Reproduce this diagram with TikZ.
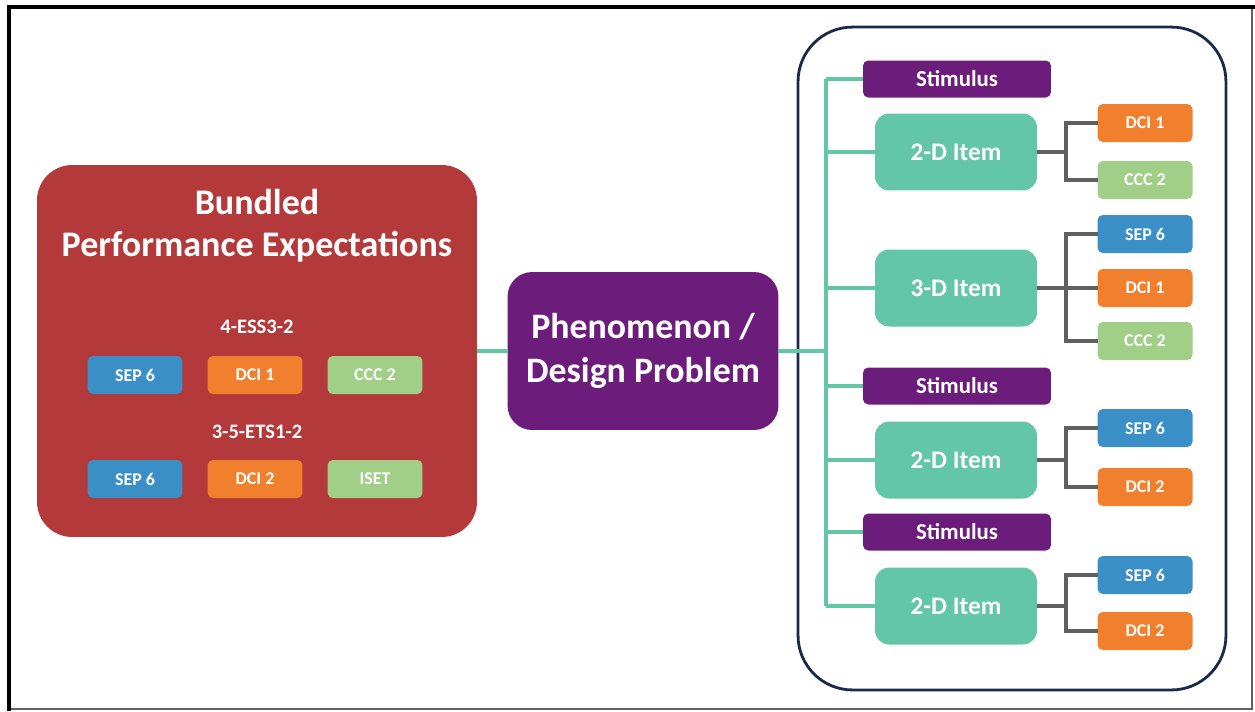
\documentclass[tikz,border=0pt]{standalone}
\usepackage{fontspec}
\setmainfont{Carlito}

\definecolor{peRed}{HTML}{B3393A}
\definecolor{phPurple}{HTML}{6C1D7C}
\definecolor{itemTeal}{HTML}{63C6A7}
\definecolor{sepBlue}{HTML}{3A8FC7}
\definecolor{dciOrange}{HTML}{F07F2E}
\definecolor{cccGreen}{HTML}{A2CF87}
\definecolor{linkGray}{HTML}{606060}
\definecolor{frameNavy}{HTML}{1B2A4A}

\begin{document}
\begin{tikzpicture}[x=0.02cm,y=-0.02cm]
        \tikzstyle{every node}=[font=\bfseries, text=white, inner sep=0pt, outer sep=0pt]
        \tikzstyle{tagbox}=[rounded corners=3pt, minimum width=1.9cm, minimum height=0.76cm, font=\fontsize{10.2}{12}\bfseries]
        \tikzstyle{sep}=[tagbox, fill=sepBlue]
        \tikzstyle{dci}=[tagbox, fill=dciOrange]
        \tikzstyle{ccc}=[tagbox, fill=cccGreen]
        \tikzstyle{stimbox}=[fill=phPurple, rounded corners=3pt, minimum width=3.76cm, minimum height=0.74cm, font=\fontsize{13}{15}\bfseries]
        \tikzstyle{itembox}=[fill=itemTeal, rounded corners=8pt, minimum width=3.24cm, minimum height=1.54cm, font=\fontsize{14.4}{17}\bfseries]
        \tikzstyle{pecode}=[font=\fontsize{11.7}{14}\bfseries]
        \tikzstyle{tealline}=[draw=itemTeal, line width=1.8pt]
        \tikzstyle{grayline}=[draw=linkGray, line width=1.8pt]

        \useasboundingbox (0,0) rectangle (1255,711);

        % frame
        \draw[linkGray, line width=0.8pt] (1252,7) -- (1252,709) -- (9,709);
        \draw[black, line width=2.4pt] (9,711) -- (9,7) -- (1255,7);

        % bundled performance expectations
        \node[fill=peRed, rounded corners=20pt, minimum width=8.8cm, minimum height=7.44cm] (pe) at (257,351) {};
        \node[align=center, font=\fontsize{20.5}{24}\bfseries] (peTitle) at (257,226) {Bundled\\Performance Expectations};
        \node[pecode] (essCode) at (257,327) {4-ESS3-2};
        \node[sep] (essSep) at (135,375) {SEP 6};
        \node[dci] (essDci) at (255,375) {DCI 1};
        \node[ccc] (essCcc) at (375,375) {CCC 2};
        \node[pecode] (etsCode) at (257,432) {3-5-ETS1-2};
        \node[sep] (etsSep) at (135,479) {SEP 6};
        \node[dci] (etsDci) at (255,479) {DCI 2};
        \node[ccc] (etsIset) at (375,479) {ISET};

        % phenomenon
        \node[fill=phPurple, rounded corners=14pt, minimum width=5.42cm, minimum height=3.16cm,
              align=center, font=\fontsize{20.4}{25.5}\bfseries] (phen) at (643,351) {Phenomenon /\\Design Problem};

        % task set
        \node[draw=frameNavy, line width=1.6pt, rounded corners=31pt, minimum width=8.56cm, minimum height=13.26cm] (taskSet) at (1012,358.5) {};

        \node[stimbox] (stimA) at (957,79) {Stimulus};
        \node[itembox] (itemA) at (956,152) {2-D Item};
        \node[itembox] (itemB) at (956,288) {3-D Item};
        \node[stimbox] (stimB) at (957,386) {Stimulus};
        \node[itembox] (itemC) at (956,460) {2-D Item};
        \node[stimbox] (stimC) at (957,532) {Stimulus};
        \node[itembox] (itemD) at (956,606) {2-D Item};

        \node[dci] (aDci) at (1145,123) {DCI 1};
        \node[ccc] (aCcc) at (1145,180) {CCC 2};
        \node[sep] (bSep) at (1145,234) {SEP 6};
        \node[dci] (bDci) at (1145,288) {DCI 1};
        \node[ccc] (bCcc) at (1145,341) {CCC 2};
        \node[sep] (cSep) at (1145,428) {SEP 6};
        \node[dci] (cDci) at (1145,487) {DCI 2};
        \node[sep] (dSep) at (1145,575) {SEP 6};
        \node[dci] (dDci) at (1145,631) {DCI 2};

        % teal links
        \coordinate (trunk) at (826,351);
        \draw[tealline] (pe.east) -- (phen.west);
        \draw[tealline] (phen.east) -- (trunk);
        \draw[tealline] (stimA.west -| trunk) -- (itemD.west -| trunk);
        \draw[tealline] (stimA.west -| trunk) -- (stimA.west);
        \draw[tealline] (itemA.west -| trunk) -- (itemA.west);
        \draw[tealline] (itemB.west -| trunk) -- (itemB.west);
        \draw[tealline] (stimB.west -| trunk) -- (stimB.west);
        \draw[tealline] (itemC.west -| trunk) -- (itemC.west);
        \draw[tealline] (stimC.west -| trunk) -- (stimC.west);
        \draw[tealline] (itemD.west -| trunk) -- (itemD.west);

        % gray links
        \draw[grayline] (itemA.east) -- +(29,0) |- (aDci.west);
        \draw[grayline] (itemA.east) -- +(29,0) |- (aCcc.west);
        \draw[grayline] (itemB.east) -- +(29,0) |- (bSep.west);
        \draw[grayline] (itemB.east) -- (bDci.west);
        \draw[grayline] (itemB.east) -- +(29,0) |- (bCcc.west);
        \draw[grayline] (itemC.east) -- +(29,0) |- (cSep.west);
        \draw[grayline] (itemC.east) -- +(29,0) |- (cDci.west);
        \draw[grayline] (itemD.east) -- +(29,0) |- (dSep.west);
        \draw[grayline] (itemD.east) -- +(29,0) |- (dDci.west);

    \end{tikzpicture}
\end{document}
